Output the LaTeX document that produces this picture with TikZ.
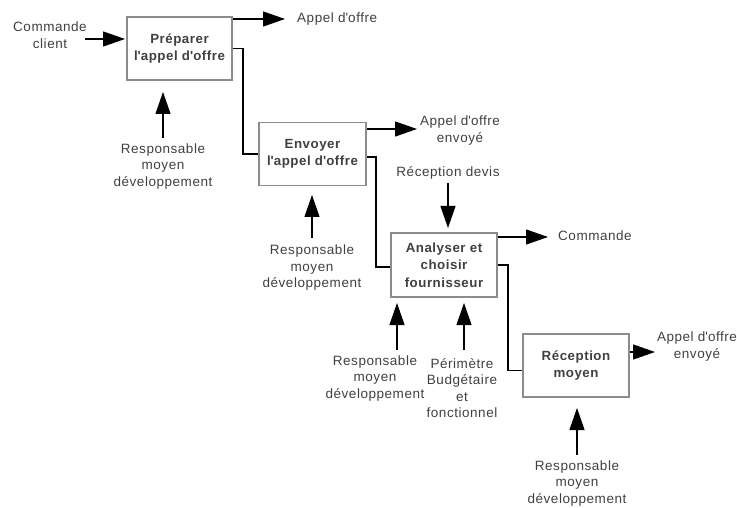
\documentclass[tikz,border=0pt]{standalone}
\usepackage{fontspec}
\setmainfont{Liberation Sans}[LetterSpace=4]
\usetikzlibrary{arrows.meta}
\definecolor{txt}{HTML}{404040}
\definecolor{boxline}{HTML}{8C8C8C}
\newcommand\q{\textquotesingle}
\tikzset{
  box/.style={draw=boxline, line width=1.8pt, minimum width=105pt, minimum height=63pt,
    align=center, inner sep=1pt, font=\fontsize{13.3}{17.5}\selectfont\bfseries, text=txt},
  lbl/.style={align=center, inner sep=0pt, font=\fontsize{13.5}{16.5}\selectfont, text=txt},
  conn/.style={line width=1.2pt, black},
  arr/.style={conn, -{Triangle[length=22pt,width=15pt]}},
}
\begin{document}
\begin{tikzpicture}[x=1pt,y=-1pt]
\useasboundingbox (0,0) rectangle (737,508);
% boxes
\node[box] (b1) at (179.5,48.5) {Préparer\\l\q appel d\q offre};
\node[box, minimum width=107pt] (b2) at (312.5,154) {Envoyer\\l\q appel d\q offre};
\node[box, minimum width=106pt, minimum height=64pt] (b3) at (444,265) {Analyser et\\choisir\\fournisseur};
\node[box, minimum width=106pt] (b4) at (576,365.5) {Réception\\moyen};
% labels
\node[lbl] (cc) at (50,35) {Commande\\client};
\node[lbl, anchor=west] (o1) at (297,19) {Appel d\q offre};
\node[lbl] (o2) at (460,130.5) {Appel d\q offre\\envoyé};
\node[lbl] (rd) at (448,173) {Réception devis};
\node[lbl, anchor=west] (o3) at (558,236) {Commande};
\node[lbl] (o4) at (697,346.5) {Appel d\q offre\\envoyé};
\node[lbl] (r1) at (163,166.5) {Responsable\\moyen\\développement};
\node[lbl] (r2) at (312,268) {Responsable\\moyen\\développement};
\node[lbl] (r3) at (375,378.5) {Responsable\\moyen\\développement};
\node[lbl] (p3) at (462,388) {Périmètre\\Budgétaire\\et\\fonctionnel};
\node[lbl] (r4) at (577,483.5) {Responsable\\moyen\\développement};
% tip coordinates
\coordinate (ti) at (125,39);
\coordinate (t1) at (285,19);
\coordinate (t2) at (417,129);
\coordinate (t3) at (548,237);
\coordinate (t4) at (655,352);
\coordinate (td) at (448,228);
\coordinate (c1) at (163,92);
\coordinate (c2) at (312,195);
\coordinate (c3a) at (397,303);
\coordinate (c3b) at (464,303);
\coordinate (c4) at (577,408);
\coordinate (s1) at (163,138);
\coordinate (s2) at (312,238);
\coordinate (s3a) at (397,350);
\coordinate (s3b) at (464,350);
\coordinate (s4) at (577,455);
\coordinate (sd) at (448,183);
\coordinate (si) at (85,39);
% inputs
\draw[arr] (si) -- (ti);
\draw[arr] (sd) -- (td);
% outputs
\draw[arr] (b1.east |- t1) -- (t1);
\draw[arr] (b2.east |- t2) -- (t2);
\draw[arr] (b3.east |- t3) -- (t3);
\draw[arr] (b4.east |- t4) -- (t4);
% controls
\draw[arr] (s1) -- (c1);
\draw[arr] (s2) -- (c2);
\draw[arr] (s3a) -- (c3a);
\draw[arr] (s3b) -- (c3b);
\draw[arr] (s4) -- (c4);
% flow between boxes
\draw[conn] (b1.east) -- ++(10,0) |- (b2.west);
\draw[conn] ([yshift=-3pt]b2.east) -- ++(9,0) |- ([yshift=-2pt]b3.west);
\draw[conn] (b3.east) -- ++(10,0) |- ([yshift=-5pt]b4.west);
\end{tikzpicture}
\end{document}
